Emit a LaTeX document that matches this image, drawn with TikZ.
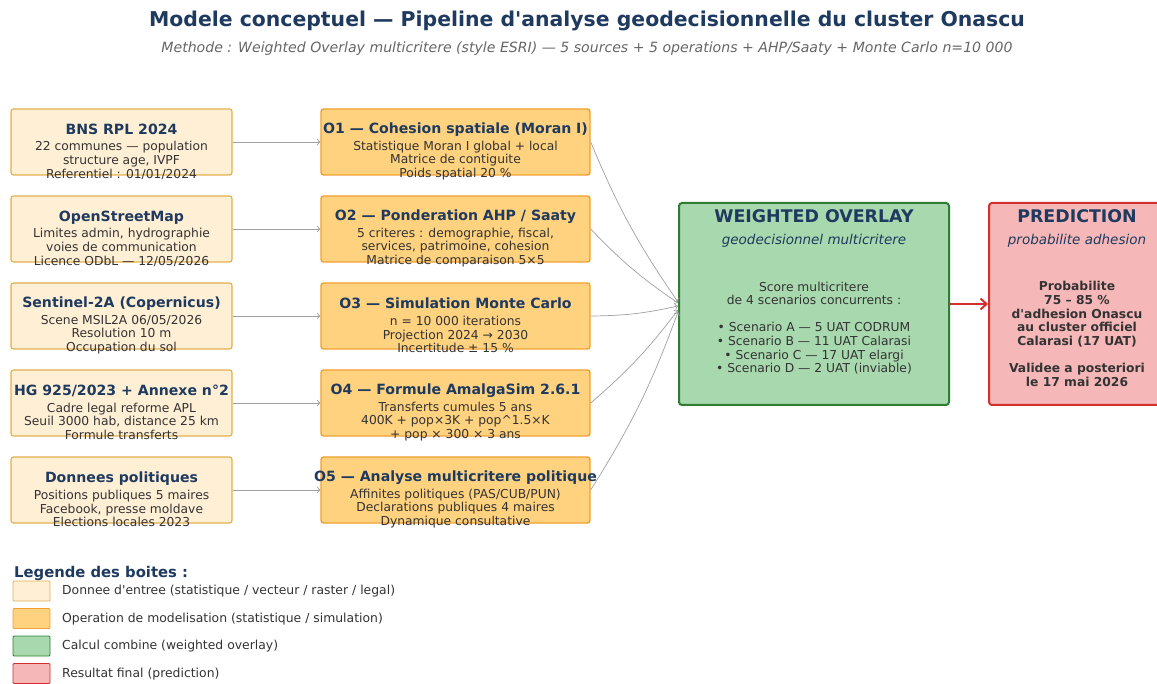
\documentclass[tikz,border=0pt]{standalone}
\usepackage{fontspec}
\setmainfont{DejaVu Sans}[Ligatures=TeXOff]
\usetikzlibrary{positioning,arrows.meta}
\definecolor{inFill}{HTML}{FFEFD5}
\definecolor{inDraw}{HTML}{E3B04E}
\definecolor{opFill}{HTML}{FFD27F}
\definecolor{opDraw}{HTML}{F0A030}
\definecolor{woFill}{HTML}{A8D8AE}
\definecolor{woDraw}{HTML}{2E7D32}
\definecolor{prFill}{HTML}{F5B7B7}
\definecolor{prDraw}{HTML}{D32F2F}
\definecolor{navy}{HTML}{1F3A5F}
\definecolor{txtGray}{HTML}{333333}
\definecolor{subGray}{HTML}{666666}
\definecolor{arrGray}{HTML}{A0A0A0}
\begin{document}
\begin{tikzpicture}[x=1pt,y=-1pt,
        inbox/.style={draw=inDraw,fill=inFill,line width=1.2pt,rounded corners=2.5pt,
            minimum width=221pt,minimum height=66pt,inner sep=0pt},
        opbox/.style={inbox,draw=opDraw,fill=opFill,line width=1.4pt,minimum width=269pt},
        bigbox/.style={draw=woDraw,fill=woFill,line width=2pt,rounded corners=3pt,
            minimum width=270pt,minimum height=202pt,inner sep=0pt},
        txt/.style={align=center,text=txtGray,inner sep=0pt,
            font=\fontsize{12.3}{13.6}\selectfont},
        head/.style={text=navy,inner sep=0pt,font=\bfseries\fontsize{17.4}{20}\selectfont},
        sub/.style={text=navy,inner sep=0pt,font=\itshape\fontsize{13.5}{16}\selectfont},
        leg/.style={line width=0.8pt,minimum width=37pt,minimum height=20pt,inner sep=0pt,
            rounded corners=1pt},
        legtxt/.style={anchor=west,text=txtGray,inner sep=0pt,font=\fontsize{12.4}{14}\selectfont},
        feed/.style={->,draw=arrGray,line width=0.7pt}]
    \useasboundingbox (0,0) rectangle (1157,684);

    % titre
    \node[text=navy,font=\bfseries\fontsize{20.4}{24}\selectfont] (title) at (587,21)
        {Modele conceptuel — Pipeline d'analyse geodecisionnelle du cluster Onascu};
    \node[text=subGray,font=\itshape\fontsize{14.1}{17}\selectfont] (subtitle) at (587,49)
        {Methode : Weighted Overlay multicritere (style ESRI) — 5 sources + 5 operations + AHP/Saaty + Monte Carlo n=10 000};

    % donnees d'entree
    \node[inbox] (in1) at (121.5,142) {};
    \node[inbox] (in2) at (121.5,229) {};
    \node[inbox] (in3) at (121.5,316) {};
    \node[inbox] (in4) at (121.5,403) {};
    \node[inbox] (in5) at (121.5,490) {};
    \node[txt] (in1t) at (121.5,151.5) {{\bfseries\color{navy}\fontsize{14.1}{16}\selectfont BNS RPL 2024}\\[3pt]
        22 communes — population\\ structure age, IVPF\\ Referentiel : 01/01/2024};
    \node[txt] (in2t) at (121.5,238.5) {{\bfseries\color{navy}\fontsize{14.1}{16}\selectfont OpenStreetMap}\\[3pt]
        Limites admin, hydrographie\\ voies de communication\\ Licence ODbL — 12/05/2026};
    \node[txt] (in3t) at (121.5,325.5) {{\bfseries\color{navy}\fontsize{14.1}{16}\selectfont Sentinel-2A (Copernicus)}\\[3pt]
        Scene MSIL2A 06/05/2026\\ Resolution 10 m\\ Occupation du sol};
    \node[txt] (in4t) at (121.5,412.5) {{\bfseries\color{navy}\fontsize{14.1}{16}\selectfont HG 925/2023 + Annexe n°2}\\[3pt]
        Cadre legal reforme APL\\ Seuil 3000 hab, distance 25 km\\ Formule transferts};
    \node[txt] (in5t) at (121.5,499.5) {{\bfseries\color{navy}\fontsize{14.1}{16}\selectfont Donnees politiques}\\[3pt]
        Positions publiques 5 maires\\ Facebook, presse moldave\\ Elections locales 2023};

    % operations
    \node[opbox] (op1) at (455.5,142) {};
    \node[opbox] (op2) at (455.5,229) {};
    \node[opbox] (op3) at (455.5,316) {};
    \node[opbox] (op4) at (455.5,403) {};
    \node[opbox] (op5) at (455.5,490) {};
    \node[txt] (op1t) at (455.5,151.5) {{\bfseries\color{navy}\fontsize{14.1}{16}\selectfont O1 — Cohesion spatiale (Moran I)}\\[3pt]
        Statistique Moran I global + local\\ Matrice de contiguite\\ Poids spatial 20 \%};
    \node[txt] (op2t) at (455.5,238.5) {{\bfseries\color{navy}\fontsize{14.1}{16}\selectfont O2 — Ponderation AHP / Saaty}\\[3pt]
        5 criteres : demographie, fiscal,\\ services, patrimoine, cohesion\\ Matrice de comparaison 5×5};
    \node[txt] (op3t) at (455.5,325.5) {{\bfseries\color{navy}\fontsize{14.1}{16}\selectfont O3 — Simulation Monte Carlo}\\[3pt]
        n = 10 000 iterations\\ Projection 2024 → 2030\\ Incertitude ± 15 \%};
    \node[txt] (op4t) at (455.5,412.5) {{\bfseries\color{navy}\fontsize{14.1}{16}\selectfont O4 — Formule AmalgaSim 2.6.1}\\[3pt]
        Transferts cumules 5 ans\\ 400K + pop×3K + pop\^{}1.5×K\\ + pop × 300 × 3 ans};
    \node[txt] (op5t) at (455.5,499.5) {{\bfseries\color{navy}\fontsize{14.1}{16}\selectfont O5 — Analyse multicritere politique}\\[3pt]
        Affinites politiques (PAS/CUB/PUN)\\ Declarations publiques 4 maires\\ Dynamique consultative};

    % weighted overlay
    \node[bigbox] (wo) at (814,304) {};
    \node[head] (wohead) at (814,216) {WEIGHTED OVERLAY};
    \node[sub] (wosub) at (814,240.5) {geodecisionnel multicritere};
    \node[txt] (wot) at (814,328) {Score multicritere\\ de 4 scenarios concurrents :\\[13.6pt]
        • Scenario A — 5 UAT CODRUM\\ • Scenario B — 11 UAT Calarasi\\
        • Scenario C — 17 UAT elargi\\ • Scenario D — 2 UAT (inviable)};

    % prediction
    \node[bigbox,draw=prDraw,fill=prFill,minimum width=176pt] (pred) at (1077,304) {};
    \node[head] (prhead) at (1077,216) {PREDICTION};
    \node[sub] (prsub) at (1077,240.5) {probabilite adhesion};
    \node[txt,font=\bfseries\fontsize{12.3}{13.6}\selectfont] (prt) at (1077,334)
        {Probabilite\\ 75 – 85 \%\\ d'adhesion Onascu\\ au cluster officiel\\ Calarasi (17 UAT)\\[13.6pt]
        Validee a posteriori\\ le 17 mai 2026};

    % connecteurs
    \draw[feed] (in1) -- (op1);
    \draw[feed] (in2) -- (op2);
    \draw[feed] (in3) -- (op3);
    \draw[feed] (in4) -- (op4);
    \draw[feed] (in5) -- (op5);
    \draw[feed] (op1.east) to[bend right=6] ([yshift=2pt]wo.west);
    \draw[feed] (op2.east) to[bend right=6] ([yshift=1pt]wo.west);
    \draw[feed] (op3.east) to[bend right=6] ([yshift=-2pt]wo.west);
    \draw[feed] (op4.east) to[bend right=6] ([yshift=-6pt]wo.west);
    \draw[feed] (op5.east) to[bend right=6] ([yshift=-8pt]wo.west);
    \draw[-{Straight Barb[length=6pt,width=11pt]},draw=prDraw,line width=2pt] (wo) -- (pred);

    % legende
    \node[anchor=west,text=navy,inner sep=0pt,font=\bfseries\fontsize{14.8}{17}\selectfont] (legtitle) at (14,573) {Legende des boites :};
    \node[leg,draw=inDraw,fill=inFill] (leg1) at (31.5,591) {};
    \node[leg,draw=opDraw,fill=opFill] (leg2) at (31.5,618.5) {};
    \node[leg,draw=woDraw,fill=woFill] (leg3) at (31.5,646) {};
    \node[leg,draw=prDraw,fill=prFill] (leg4) at (31.5,673.5) {};
    \node[legtxt] (leg1t) at (62,591) {Donnee d'entree (statistique / vecteur / raster / legal)};
    \node[legtxt] (leg2t) at (62,619) {Operation de modelisation (statistique / simulation)};
    \node[legtxt] (leg3t) at (62,646) {Calcul combine (weighted overlay)};
    \node[legtxt] (leg4t) at (62,674) {Resultat final (prediction)};
\end{tikzpicture}
\end{document}
